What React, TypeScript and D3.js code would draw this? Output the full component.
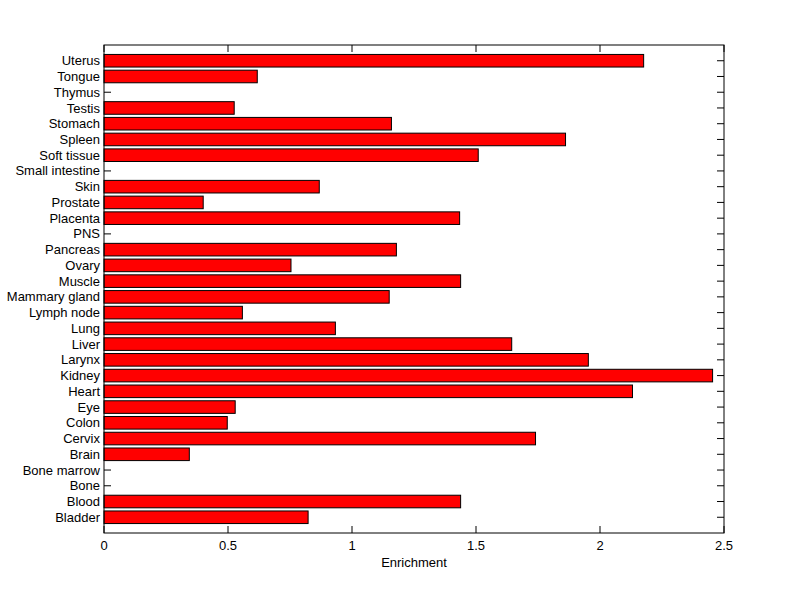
import React from "react";
import * as d3 from "d3";

// bottom to top, as in the picture
const tissues = [
  "Bladder", "Blood", "Bone", "Bone marrow", "Brain", "Cervix", "Colon", "Eye",
  "Heart", "Kidney", "Larynx", "Liver", "Lung", "Lymph node", "Mammary gland",
  "Muscle", "Ovary", "Pancreas", "PNS", "Placenta", "Prostate", "Skin",
  "Small intestine", "Soft tissue", "Spleen", "Stomach", "Testis", "Thymus",
  "Tongue", "Uterus",
];
const enrichment = [
  0.823, 1.438, 0, 0, 0.344, 1.74, 0.497, 0.529,
  2.131, 2.454, 1.953, 1.644, 0.933, 0.558, 1.15,
  1.438, 0.754, 1.179, 0, 1.434, 0.4, 0.868,
  0, 1.509, 1.861, 1.159, 0.525, 0,
  0.618, 2.176,
];
const xTicks = [0, 0.5, 1, 1.5, 2, 2.5];

const W = 800;
const H = 599;
const left = 104;
const right = 724;
const top = 45;
const bottom = 533;
const tickLen = 7;
const font = "Liberation Sans, Arial, Helvetica, sans-serif";
const fs = 13;

const App: React.FC = () => {
  const x = d3.scaleLinear().domain([0, 2.5]).range([left, right]);
  // matlab style: categories at 1..n, limits 0..n+1
  const y = d3.scaleLinear().domain([0, tissues.length + 1]).range([bottom, top]);
  const barH = Math.abs(y(0.8) - y(0));

  return (
    <svg width={W} height={H} style={{ position: "absolute", left: 0, top: 0 }}>
      <rect x={0} y={0} width={W} height={H} fill="#fff" />
      {tissues.map((t, i) => {
        const cy = y(i + 1);
        return (
          <g key={t}>
            <line x1={left} x2={left + tickLen} y1={cy} y2={cy} stroke="#000" />
            <line x1={right} x2={right - tickLen} y1={cy} y2={cy} stroke="#000" />
            <text
              x={left - 4}
              y={cy}
              dy="0.35em"
              textAnchor="end"
              fontFamily={font}
              fontSize={fs}
            >
              {t}
            </text>
          </g>
        );
      })}
      {tissues.map((t, i) =>
        enrichment[i] > 0 ? (
          <rect
            key={"b" + t}
            x={x(0)}
            y={y(i + 1) - barH / 2}
            width={x(enrichment[i]) - x(0)}
            height={barH}
            fill="#ff0000"
            stroke="#000"
            strokeWidth={1}
          />
        ) : null
      )}
      {xTicks.map((v) => (
        <g key={v}>
          <line x1={x(v)} x2={x(v)} y1={bottom} y2={bottom - tickLen} stroke="#000" />
          <line x1={x(v)} x2={x(v)} y1={top} y2={top + tickLen} stroke="#000" />
          <text
            x={x(v)}
            y={bottom + 17}
            textAnchor="middle"
            fontFamily={font}
            fontSize={fs}
          >
            {v}
          </text>
        </g>
      ))}
      <rect
        x={left}
        y={top}
        width={right - left}
        height={bottom - top}
        fill="none"
        stroke="#000"
        strokeWidth={1}
      />
      <text
        x={(left + right) / 2}
        y={bottom + 34}
        textAnchor="middle"
        fontFamily={font}
        fontSize={fs}
      >
        Enrichment
      </text>
    </svg>
  );
};

export default App;
